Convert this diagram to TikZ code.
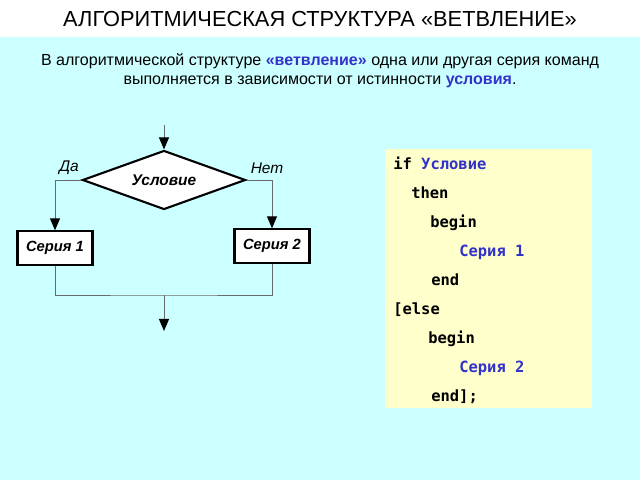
\documentclass[tikz,border=0pt]{standalone}
\usepackage{fontspec}
\setmainfont{Liberation Sans}
\newfontfamily\codefont{DejaVu Sans Mono}
\usetikzlibrary{shapes.geometric,positioning,arrows.meta}
\definecolor{bgcyan}{HTML}{CCFFFF}
\definecolor{codebg}{HTML}{FFFFCC}
\definecolor{kwblue}{HTML}{3333CC}
\definecolor{linegray}{HTML}{6A6A6A}

\begin{document}
\begin{tikzpicture}[x=0.025cm, y=-0.025cm]
    \tikzstyle{dnode} = [line width=1.5pt, draw=black, fill=white, diamond, aspect=2.76, inner sep=0pt,
                         minimum width=4.075cm, minimum height=1.475cm, font=\fontsize{11}{13}\selectfont\bfseries\itshape]
    \tikzstyle{snode} = [line width=1.5pt, draw=black, fill=white, rectangle, inner sep=0pt,
                         minimum width=1.875cm, minimum height=0.83cm, font=\fontsize{10.5}{12}\selectfont\bfseries\itshape]
    \tikzstyle{lnode} = [inner sep=0pt, font=\fontsize{11}{13}\selectfont\itshape]
    \tikzstyle{cline} = [anchor=base west, inner sep=0pt, font=\fontsize{11}{13}\selectfont\codefont\bfseries]
    \tikzstyle{conn}  = [draw=linegray, line width=0.7pt]
    \tikzstyle{arr}   = [conn, -{Triangle[length=3mm, width=2.5mm, color=black]}]

    % background and heading
    \fill[white] (0,0) rectangle (640,37);
    \fill[bgcyan] (0,37) rectangle (640,480);
    \node[font=\fontsize{15.5}{18}\selectfont] (title) at (320,19) {АЛГОРИТМИЧЕСКАЯ СТРУКТУРА «ВЕТВЛЕНИЕ»};
    \node[align=center, font=\fontsize{11.4}{13.5}\selectfont] (intro) at (320,71)
      {В алгоритмической структуре \textcolor{kwblue}{\bfseries «ветвление»} одна или другая серия команд\\
       выполняется в зависимости от истинности \textcolor{kwblue}{\bfseries условия}.};

    % flowchart
    \coordinate (in) at (164,125);
    \node[dnode] (cond) at (164,180) {Условие};
    \node[snode] (s1) at (55,248) {Серия 1};
    \node[snode] (s2) at (272,246) {Серия 2};
    \node[lnode] (yes) at (69,168) {Да};
    \node[lnode] (no) at (267,168) {Нет};
    \coordinate (join) at (164,295);
    \coordinate (out) at (164,331);

    \draw[arr] (in) -- (cond.north);
    \draw[arr] (cond.west) -| (s1.north);
    \draw[arr] (cond.east) -| (s2.north);
    \draw[conn] (s1.south) |- (join) -| (s2.south);
    \draw[arr] (join) -- (out);

    % pascal code
    \node[fill=codebg, minimum width=5.175cm, minimum height=6.475cm, inner sep=0pt] (code) at (488.5,278.5) {};
    \foreach \i/\x/\t in {1/393/{if \textcolor{kwblue}{Условие}}, 2/411/then, 3/430/begin,
                          4/459/\textcolor{kwblue}{Серия 1}, 5/431/end, 6/393/[else,
                          7/428/begin, 8/459/\textcolor{kwblue}{Серия 2}, 9/431/end];}
      \node[cline] (c\i) at (\x,{169+29*(\i-1)}) {\t};
\end{tikzpicture}
\end{document}
